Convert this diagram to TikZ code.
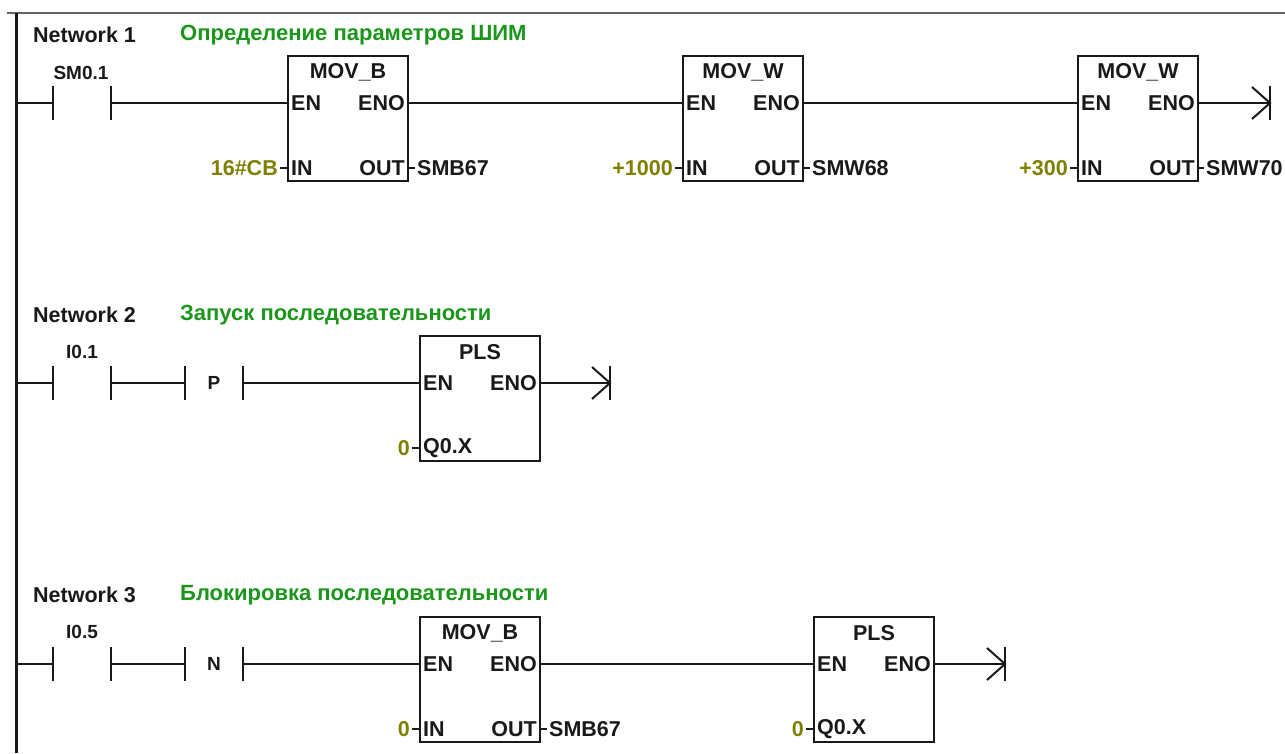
\documentclass[tikz,border=0pt]{standalone}
\usepackage{fontspec}
\setmainfont{Liberation Sans}
\definecolor{ttlgreen}{RGB}{26,150,26}
\definecolor{olivetxt}{RGB}{128,128,0}
\definecolor{inkc}{RGB}{25,25,25}
\begin{document}
\begin{tikzpicture}[x=1pt,y=-1pt,
  wire/.style={line width=2pt, inkc},
  rail/.style={line width=3pt, inkc},
  fb/.style={draw=inkc, line width=2pt, minimum width=120pt, minimum height=125pt, inner sep=0pt, outer sep=0pt, anchor=north west},
  txt/.style={font=\fontsize{21.5}{23}\selectfont\bfseries, text=inkc, inner sep=0pt},
  opl/.style={font=\fontsize{19}{21}\selectfont\bfseries, text=inkc, inner sep=0pt},
  netlbl/.style={font=\fontsize{21.5}{23}\selectfont\bfseries, text=inkc, inner sep=0pt, anchor=west},
  title/.style={font=\fontsize{22}{24}\selectfont\bfseries, text=ttlgreen, inner sep=0pt, anchor=west},
  constv/.style={font=\fontsize{21.5}{23}\selectfont\bfseries, text=olivetxt, inner sep=0pt, anchor=east},
  outv/.style={font=\fontsize{21.5}{23}\selectfont\bfseries, text=inkc, inner sep=0pt, anchor=west}
]
\useasboundingbox (0,0) rectangle (1285,753);
% frame
\draw[line width=2pt, black!60] (7,13) -- (1285,13);
\coordinate (railtop) at (16,13);
\coordinate (railbot) at (16,753);
\draw[rail] (railtop) -- (railbot);

% ---------- generic pieces ----------
\newcommand{\fblock}[4]{% name, x, y, title
  \node[fb] (#1) at (#2,#3) {};
  \node[txt, anchor=center] (#1t) at ([shift={(0,16)}]#1.north) {#4};
  \node[txt, anchor=west] (#1en) at ([shift={(3,47)}]#1.north west) {EN};
  \node[txt, anchor=east] (#1eno) at ([shift={(-3,47)}]#1.north east) {ENO};
  \coordinate (#1EN) at ([shift={(0,47)}]#1.north west);
  \coordinate (#1ENO) at ([shift={(0,47)}]#1.north east);
  \coordinate (#1IN) at ([shift={(0,112)}]#1.north west);
  \coordinate (#1OUT) at ([shift={(0,112)}]#1.north east);
}
\newcommand{\contactpair}[3]{% name, x, y  (left bar x, gap 58)
  \coordinate (#1L) at (#2,#3);
  \coordinate (#1R) at ([shift={(58,0)}]#1L);
  \draw[wire] ([shift={(0,-17)}]#1L) -- ([shift={(0,17)}]#1L);
  \draw[wire] ([shift={(0,-17)}]#1R) -- ([shift={(0,17)}]#1R);
}
\newcommand{\coilend}[1]{% coordinate name
  \draw[wire] ([shift={(0,-17)}]#1) -- ([shift={(0,17)}]#1);
  \draw[wire] ([shift={(-18,-16)}]#1) -- (#1) -- ([shift={(-18,16)}]#1);
}

% ================= Network 1 =================
\node[netlbl] (n1) at (33,35) {Network 1};
\node[title] (t1) at (180,35) {Определение параметров ШИМ};
\node[opl] (sm01) at (81,73) {SM0.1};
\contactpair{c1}{53}{103}
\fblock{b1}{288}{56}{MOV\_B}
\fblock{b2}{683}{56}{MOV\_W}
\fblock{b3}{1078}{56}{MOV\_W}
\coordinate (k1) at (1270,103);
\draw[wire] (railtop |- c1L) -- (c1L);
\draw[wire] (c1R) -- (b1EN);
\draw[wire] (b1ENO) -- (b2EN);
\draw[wire] (b2ENO) -- (b3EN);
\draw[wire] (b3ENO) -- (k1);
\coilend{k1}
% block 1 params
\node[txt, anchor=west] at ([shift={(3,0)}]b1IN) {IN};
\node[txt, anchor=east] at ([shift={(-3,0)}]b1OUT) {OUT};
\node[constv] (v1) at ([shift={(-10,0)}]b1IN) {16\#CB};
\node[outv] (o1) at ([shift={(9,0)}]b1OUT) {SMB67};
\draw[line width=1.5pt, inkc] ([shift={(2,0)}]v1.east) -- (b1IN);
\draw[line width=1.5pt, inkc] (b1OUT) -- ([shift={(-2,0)}]o1.west);
% block 2 params
\node[txt, anchor=west] at ([shift={(3,0)}]b2IN) {IN};
\node[txt, anchor=east] at ([shift={(-3,0)}]b2OUT) {OUT};
\node[constv] (v2) at ([shift={(-10,0)}]b2IN) {+1000};
\node[outv] (o2) at ([shift={(9,0)}]b2OUT) {SMW68};
\draw[line width=1.5pt, inkc] ([shift={(2,0)}]v2.east) -- (b2IN);
\draw[line width=1.5pt, inkc] (b2OUT) -- ([shift={(-2,0)}]o2.west);
% block 3 params
\node[txt, anchor=west] at ([shift={(3,0)}]b3IN) {IN};
\node[txt, anchor=east] at ([shift={(-3,0)}]b3OUT) {OUT};
\node[constv] (v3) at ([shift={(-10,0)}]b3IN) {+300};
\node[outv] (o3) at ([shift={(8,0)}]b3OUT) {SMW70};
\draw[line width=1.5pt, inkc] ([shift={(2,0)}]v3.east) -- (b3IN);
\draw[line width=1.5pt, inkc] (b3OUT) -- ([shift={(-2,0)}]o3.west);

% ================= Network 2 =================
\node[netlbl] (n2) at (33,315) {Network 2};
\node[title] (t2) at (180,315) {Запуск последовательности};
\node[opl] (i01) at (82,352) {I0.1};
\contactpair{c2}{53}{383}
\contactpair{p2}{185}{383}
\node[opl] (ptxt) at (214,383) {P};
\fblock{pl2}{420}{336}{PLS}
\coordinate (k2) at (610,383);
\draw[wire] (railtop |- c2L) -- (c2L);
\draw[wire] (c2R) -- (p2L);
\draw[wire] (p2R) -- (pl2EN);
\draw[wire] (pl2ENO) -- (k2);
\coilend{k2}
\node[txt, anchor=west] at ([shift={(3,0)}]pl2IN) {Q0.X};
\node[constv] (v4) at ([shift={(-10,0)}]pl2IN) {0};
\draw[line width=1.5pt, inkc] ([shift={(2,0)}]v4.east) -- (pl2IN);

% ================= Network 3 =================
\node[netlbl] (n3) at (33,595) {Network 3};
\node[title] (t3) at (180,595) {Блокировка последовательности};
\node[opl] (i05) at (82,632) {I0.5};
\contactpair{c3}{53}{664}
\contactpair{p3}{185}{664}
\node[opl] (ntxt) at (214,664) {N};
\fblock{m3}{420}{617}{MOV\_B}
\fblock{pl3}{814}{617}{PLS}
\coordinate (k3) at (1005,664);
\draw[wire] (railtop |- c3L) -- (c3L);
\draw[wire] (c3R) -- (p3L);
\draw[wire] (p3R) -- (m3EN);
\draw[wire] (m3ENO) -- (pl3EN);
\draw[wire] (pl3ENO) -- (k3);
\coilend{k3}
\node[txt, anchor=west] at ([shift={(3,0)}]m3IN) {IN};
\node[txt, anchor=east] at ([shift={(-3,0)}]m3OUT) {OUT};
\node[constv] (v5) at ([shift={(-10,0)}]m3IN) {0};
\node[outv] (o5) at ([shift={(9,0)}]m3OUT) {SMB67};
\draw[line width=1.5pt, inkc] ([shift={(2,0)}]v5.east) -- (m3IN);
\draw[line width=1.5pt, inkc] (m3OUT) -- ([shift={(-2,0)}]o5.west);
\node[txt, anchor=west] at ([shift={(3,0)}]pl3IN) {Q0.X};
\node[constv] (v6) at ([shift={(-10,0)}]pl3IN) {0};
\draw[line width=1.5pt, inkc] ([shift={(2,0)}]v6.east) -- (pl3IN);
\end{tikzpicture}
\end{document}
